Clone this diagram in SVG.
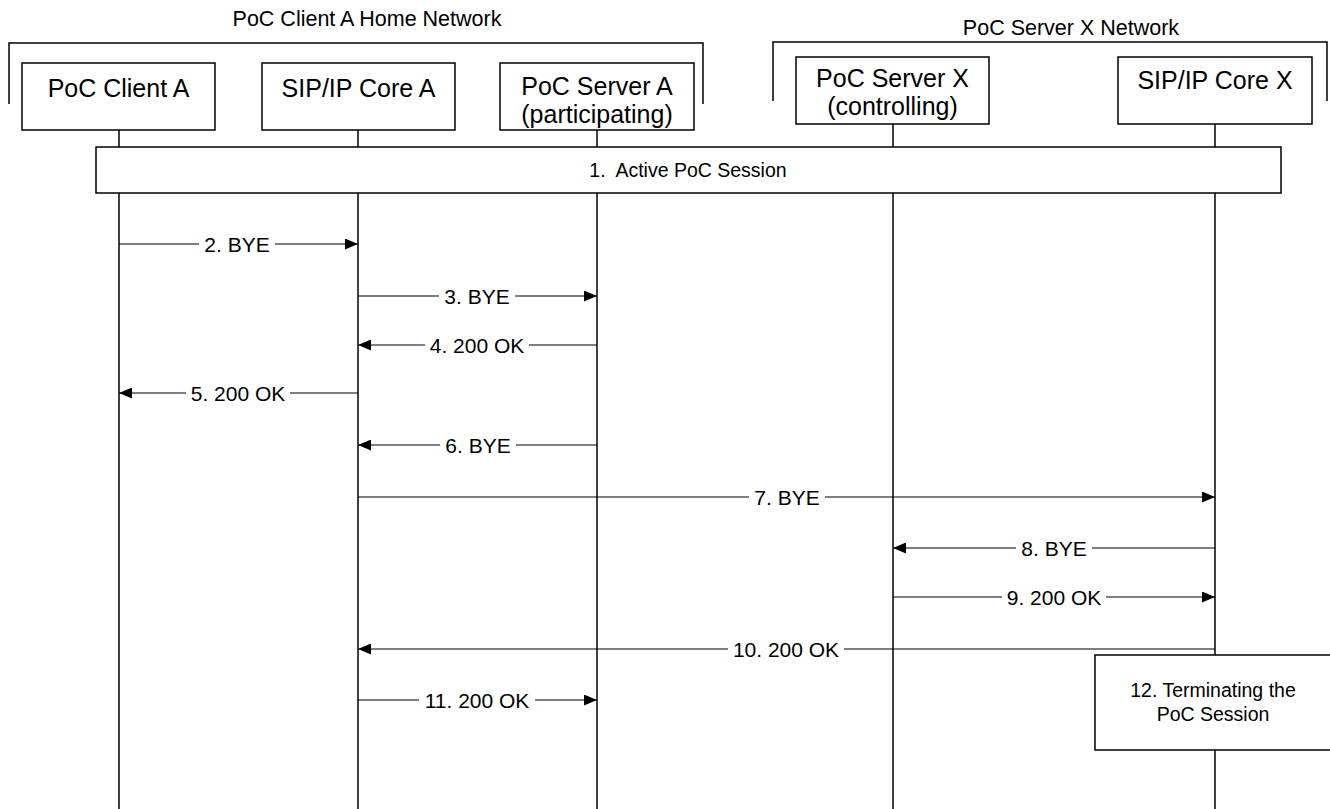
<svg xmlns="http://www.w3.org/2000/svg" width="1330" height="809" viewBox="0 0 1330 809">
<defs>
<style>
text{font-family:"Liberation Sans",Arial,sans-serif;fill:#000}
.node{fill:#fff;stroke:#000;stroke-width:1.5}
.life{stroke:#000;stroke-width:1.5;fill:none}
.brk{stroke:#000;stroke-width:1.5;fill:none}
.msg{stroke:#000;stroke-width:1.2;fill:none}
.bg{fill:#fff;stroke:none}
.nt{font-size:25px;text-anchor:middle}
.tt{font-size:21.5px;text-anchor:middle}
.ml{font-size:21px;text-anchor:middle}
.st{font-size:19.5px;text-anchor:middle;white-space:pre}
</style>
<marker id="ah" viewBox="0 0 13 11" refX="13" refY="5.5" markerWidth="13" markerHeight="11" markerUnits="userSpaceOnUse" orient="auto">
<path d="M0,0 L13,5.5 L0,11 Z" fill="#000"/>
</marker>
</defs>
<rect width="1330" height="809" fill="#fff"/>
<g id="network-a">
<polyline class="brk" points="9,104 9,43 703,43 703,104"/>
<text class="tt" x="367" y="26">PoC Client A Home Network</text>
</g>
<g id="network-x">
<polyline class="brk" points="773,101 773,42 1327,42 1327,101"/>
<text class="tt" x="1071" y="35">PoC Server X Network</text>
</g>
<g id="lifelines">
<line class="life" x1="119" y1="130" x2="119" y2="809"/>
<line class="life" x1="358" y1="130" x2="358" y2="809"/>
<line class="life" x1="597" y1="130" x2="597" y2="809"/>
<line class="life" x1="893" y1="124" x2="893" y2="809"/>
<line class="life" x1="1215" y1="124" x2="1215" y2="809"/>
</g>
<g id="client-a">
<rect class="node" x="22" y="63" width="193" height="67"/>
<text class="nt" x="118.5" y="97">PoC Client A</text>
</g>
<g id="sip-core-a">
<rect class="node" x="262" y="63" width="193" height="67"/>
<text class="nt" x="358.5" y="97">SIP/IP Core A</text>
</g>
<g id="server-a">
<rect class="node" x="500" y="63" width="194" height="67"/>
<text class="nt" x="597" y="95">PoC Server A</text>
<text class="nt" x="597" y="123">(participating)</text>
</g>
<g id="server-x">
<rect class="node" x="796" y="57" width="193" height="67"/>
<text class="nt" x="892.5" y="87">PoC Server X</text>
<text class="nt" x="892.5" y="115">(controlling)</text>
</g>
<g id="sip-core-x">
<rect class="node" x="1118" y="57" width="194" height="67"/>
<text class="nt" x="1215" y="89">SIP/IP Core X</text>
</g>
<g id="session">
<rect class="node" x="96" y="147" width="1185" height="46"/>
<text class="st" x="688" y="177">1.  Active PoC Session</text>
</g>
<g id="terminating">
<rect class="node" x="1095" y="655" width="245" height="95"/>
<text class="st" x="1213" y="697">12. Terminating the</text>
<text class="st" x="1213" y="721">PoC Session</text>
</g>
<g id="connectors">
<line class="msg" x1="119" y1="244" x2="358" y2="244" marker-end="url(#ah)"/>
<rect class="bg" x="199" y="234" width="76" height="20"/>
<text class="ml" x="237" y="251.5">2. BYE</text>
<line class="msg" x1="358" y1="296" x2="597" y2="296" marker-end="url(#ah)"/>
<rect class="bg" x="439" y="286" width="76" height="20"/>
<text class="ml" x="477" y="303.5">3. BYE</text>
<line class="msg" x1="597" y1="345" x2="358" y2="345" marker-end="url(#ah)"/>
<rect class="bg" x="425" y="335" width="104" height="20"/>
<text class="ml" x="477" y="352.5">4. 200 OK</text>
<line class="msg" x1="358" y1="393" x2="119" y2="393" marker-end="url(#ah)"/>
<rect class="bg" x="186" y="383" width="104" height="20"/>
<text class="ml" x="238" y="400.5">5. 200 OK</text>
<line class="msg" x1="597" y1="445" x2="358" y2="445" marker-end="url(#ah)"/>
<rect class="bg" x="440" y="435" width="76" height="20"/>
<text class="ml" x="478" y="452.5">6. BYE</text>
<line class="msg" x1="358" y1="497" x2="1215" y2="497" marker-end="url(#ah)"/>
<rect class="bg" x="749" y="487" width="76" height="20"/>
<text class="ml" x="787" y="504.5">7. BYE</text>
<line class="msg" x1="1215" y1="548" x2="893" y2="548" marker-end="url(#ah)"/>
<rect class="bg" x="1016" y="538" width="76" height="20"/>
<text class="ml" x="1054" y="555.5">8. BYE</text>
<line class="msg" x1="893" y1="597" x2="1215" y2="597" marker-end="url(#ah)"/>
<rect class="bg" x="1002" y="587" width="104" height="20"/>
<text class="ml" x="1054" y="604.5">9. 200 OK</text>
<line class="msg" x1="1215" y1="649" x2="358" y2="649" marker-end="url(#ah)"/>
<rect class="bg" x="728" y="639" width="116" height="20"/>
<text class="ml" x="786" y="656.5">10. 200 OK</text>
<line class="msg" x1="358" y1="700" x2="597" y2="700" marker-end="url(#ah)"/>
<rect class="bg" x="419" y="690" width="116" height="20"/>
<text class="ml" x="477" y="707.5">11. 200 OK</text>
</g>
</svg>
